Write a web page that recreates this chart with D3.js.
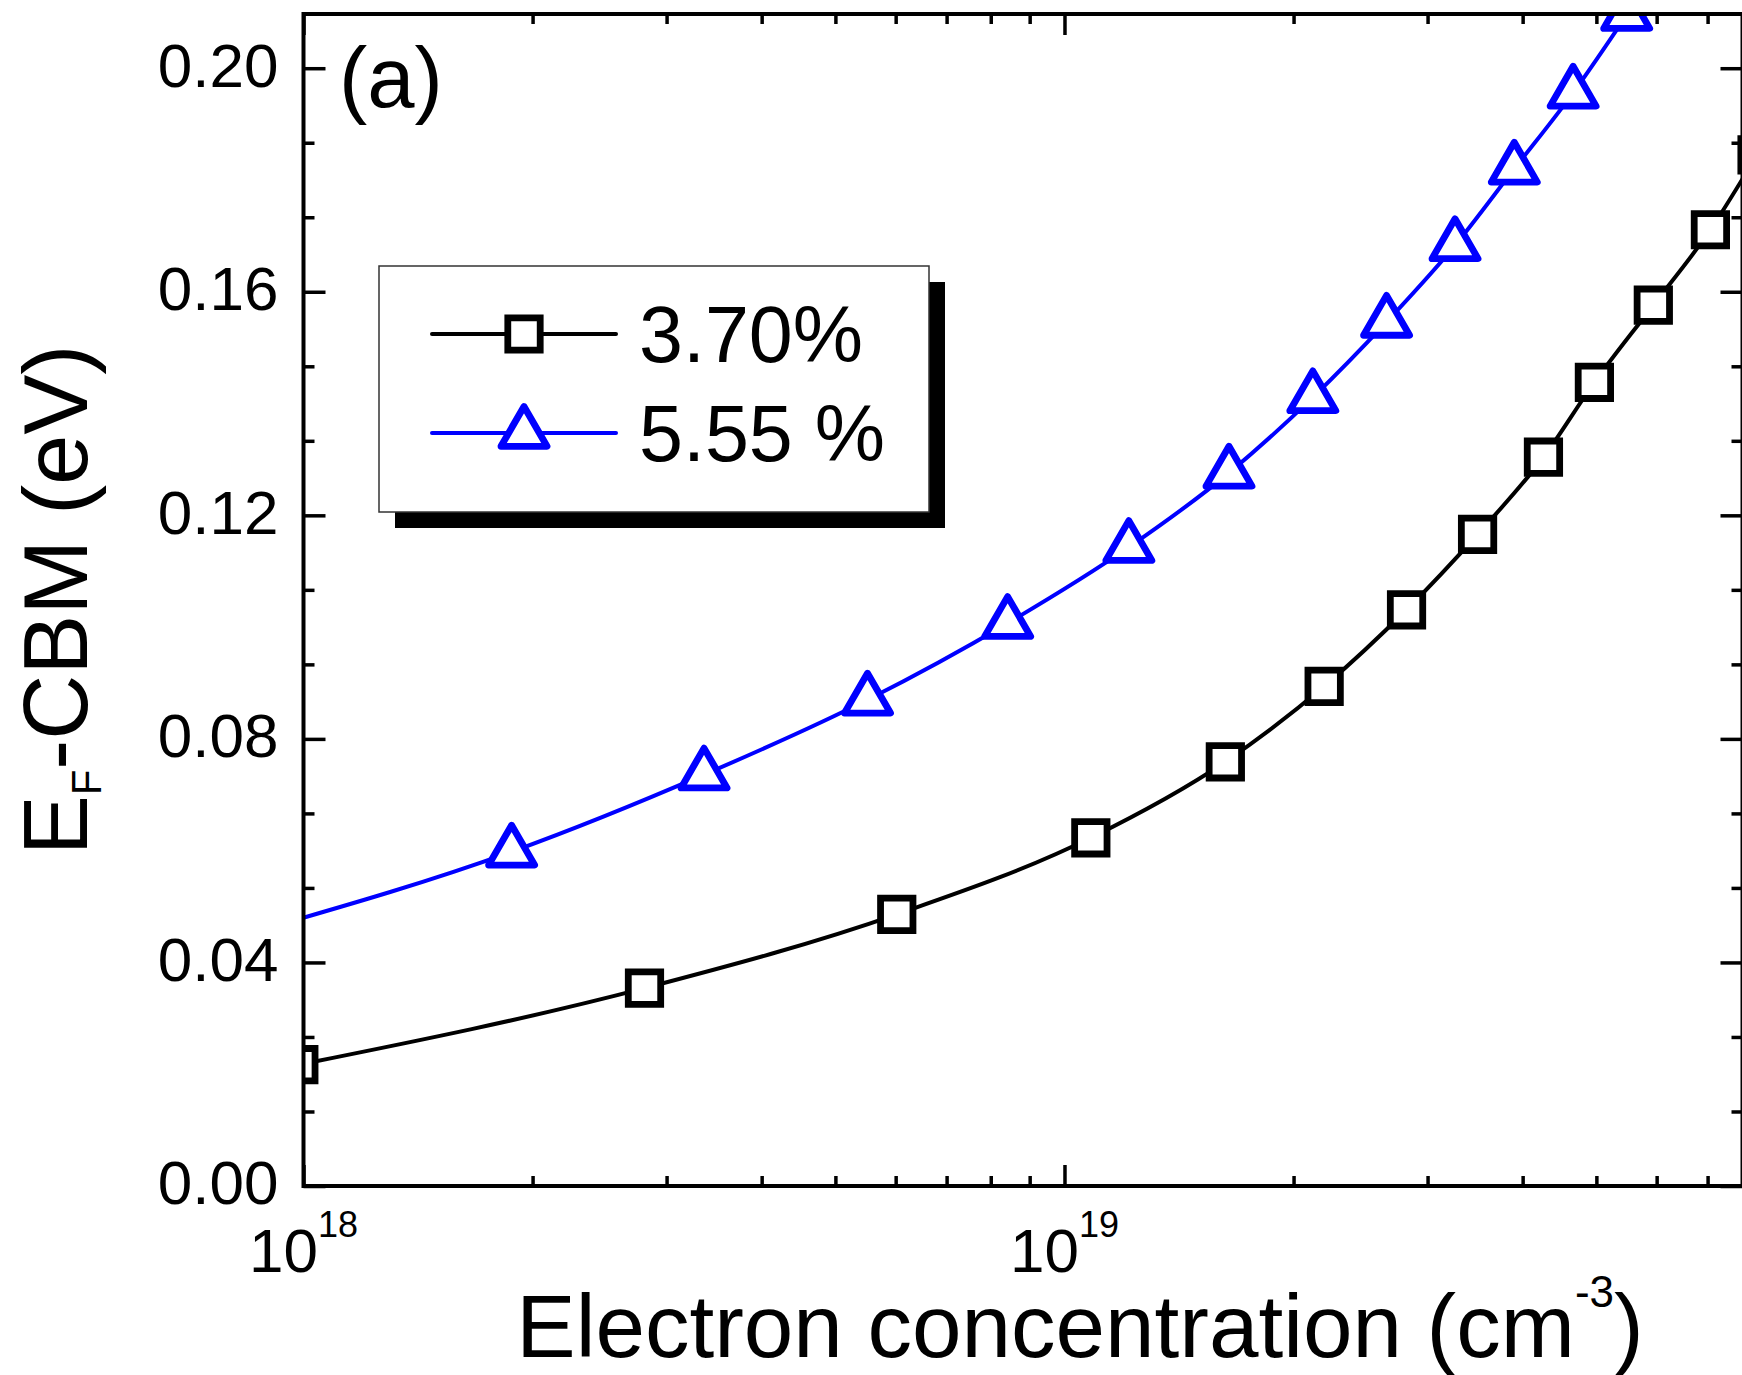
<!DOCTYPE html>
<html>
<head>
<meta charset="utf-8">
<script src="https://cdn.jsdelivr.net/npm/d3@7"></script>
<style>
  body { margin: 0; background: #fff; }
  text { font-family: "Liberation Sans", Arial, sans-serif; fill: #000; }
</style>
</head>
<body>
<div id="chart"></div>
<script>
// data: electron concentration (cm^-3) vs EF - CBM (eV)
const conc370 = [9.86e17, 2.806e18, 6.02e18, 1.083e19, 1.627e19, 2.194e19, 2.815e19, 3.49e19, 4.26e19, 4.97e19, 5.94e19, 7.06e19, 8.13e19]
const ef370 = [0.0217, 0.0354, 0.0486, 0.0623, 0.0759, 0.0894, 0.1031, 0.1166, 0.1304, 0.1438, 0.1576, 0.1711, 0.1845]

const conc555 = [9.0e17, 1.877e18, 3.36e18, 5.51e18, 8.42e18, 1.215e19, 1.645e19, 2.12e19, 2.65e19, 3.26e19, 3.90e19, 4.66e19, 5.48e19]
const ef555 = [0.0462, 0.0598, 0.0736, 0.0870, 0.1007, 0.1143, 0.1276, 0.1411, 0.1546, 0.1683, 0.1820, 0.1956, 0.2095]

const seriesNames = ["3.70%", "5.55 %"]
const seriesColors = ["#000000", "#0000ff"]
const seriesShapes = ["square", "triangle"]

const yTicks = [0, 0.04, 0.08, 0.12, 0.16, 0.20]
const xTicks = [1e18, 1e19]
const xTickExp = ["18", "19"]

const fullWidth = 1742
const fullHeight = 1375

// plot box in pixels
const plotLeft = 303.5
const plotRight = 1742.5
const plotTop = 14
const plotBottom = 1186

const x = d3.scaleLog()
    .domain([1e18, 7.78e19])
    .range([plotLeft, plotRight])

const y = d3.scaleLinear()
    .domain([0, 0.2097])
    .range([plotBottom, plotTop])

const svg = d3.select("#chart")
    .append("svg")
    .attr("width", fullWidth)
    .attr("height", fullHeight)

svg.append("rect")
    .attr("width", fullWidth)
    .attr("height", fullHeight)
    .attr("fill", "#fff")

svg.append("clipPath")
    .attr("id", "plot-clip")
    .append("rect")
    .attr("x", plotLeft)
    .attr("y", plotTop)
    .attr("width", plotRight - plotLeft)
    .attr("height", plotBottom - plotTop)

const series = [
    { name: seriesNames[0], color: seriesColors[0], shape: seriesShapes[0],
      points: conc370.map((c, i) => [c, ef370[i]]) },
    { name: seriesNames[1], color: seriesColors[1], shape: seriesShapes[1],
      points: conc555.map((c, i) => [c, ef555[i]]) }
]

// marker paths, centred on the point (triangle on its centroid)
function markerPath(shape) {
    if (shape == "square") {
        const h = 16.2
        return `M${-h},${-h}H${h}V${h}H${-h}Z`
    }
    const s = 46
    const hgt = s * Math.sqrt(3) / 2
    return `M0,${-hgt * 2 / 3}L${s / 2},${hgt / 3}L${-s / 2},${hgt / 3}Z`
}

const line = d3.line()
    .x(d => x(d[0]))
    .y(d => y(d[1]))
    .curve(d3.curveMonotoneX)

const plotArea = svg.append("g")
    .attr("clip-path", "url(#plot-clip)")

series.forEach(s => {
    plotArea.append("path")
        .datum(s.points)
        .attr("d", line)
        .attr("fill", "none")
        .attr("stroke", s.color)
        .attr("stroke-width", 4)

    plotArea.selectAll(null)
        .data(s.points)
        .join("path")
        .attr("transform", d => `translate(${x(d[0])},${y(d[1])})`)
        .attr("d", markerPath(s.shape))
        .attr("fill", "#fff")
        .attr("stroke", s.color)
        .attr("stroke-width", 6.8)
        .attr("stroke-linejoin", s.shape == "triangle" ? "round" : "miter")
})

// minor tick positions
const yMinor = d3.range(0, 0.2097, 0.04 / 3).filter(v => Math.abs(v / 0.04 - Math.round(v / 0.04)) > 0.01)
const xMinor = []
for (let e = 18; e <= 19; e++) {
    for (let m = 2; m <= 9; m++) {
        const v = m * Math.pow(10, e)
        if (v < 7.78e19) xMinor.push(v)
    }
}

// ticks only, no domain line (the frame is drawn separately)
function styleAxis(g) {
    g.select(".domain").remove()
    g.selectAll(".tick line").attr("stroke", "#000").attr("stroke-width", 3.5)
}
function noLabels(g) {
    g.selectAll(".tick text").remove()
}

// left axis
svg.append("g")
    .attr("transform", `translate(${plotLeft},0)`)
    .call(d3.axisLeft(y).tickValues(yTicks).tickSize(-22).tickPadding(25).tickFormat(d3.format(".2f")))
    .call(styleAxis)
    .call(g => g.selectAll(".tick text")
        .attr("font-size", 62)
        .attr("dy", "0.29em")
        .attr("font-family", "Liberation Sans, Arial, sans-serif"))
svg.append("g")
    .attr("transform", `translate(${plotLeft},0)`)
    .call(d3.axisLeft(y).tickValues(yMinor).tickSize(-11))
    .call(styleAxis).call(noLabels)

// right axis
svg.append("g")
    .attr("transform", `translate(${plotRight},0)`)
    .call(d3.axisRight(y).tickValues(yTicks).tickSize(-22))
    .call(styleAxis).call(noLabels)
svg.append("g")
    .attr("transform", `translate(${plotRight},0)`)
    .call(d3.axisRight(y).tickValues(yMinor).tickSize(-11))
    .call(styleAxis).call(noLabels)

// bottom axis
svg.append("g")
    .attr("transform", `translate(0,${plotBottom})`)
    .call(d3.axisBottom(x).tickValues(xTicks).tickSize(-21))
    .call(styleAxis).call(noLabels)
svg.append("g")
    .attr("transform", `translate(0,${plotBottom})`)
    .call(d3.axisBottom(x).tickValues(xMinor).tickSize(-10))
    .call(styleAxis).call(noLabels)

// top axis
svg.append("g")
    .attr("transform", `translate(0,${plotTop})`)
    .call(d3.axisTop(x).tickValues(xTicks).tickSize(-21))
    .call(styleAxis).call(noLabels)
svg.append("g")
    .attr("transform", `translate(0,${plotTop})`)
    .call(d3.axisTop(x).tickValues(xMinor).tickSize(-10))
    .call(styleAxis).call(noLabels)

// x tick labels as 10^n
xTicks.forEach((t, i) => {
    const lbl = svg.append("text")
        .attr("x", x(t))
        .attr("y", 1272)
        .attr("text-anchor", "middle")
        .attr("font-size", 62)
    lbl.append("tspan").text("10")
    lbl.append("tspan").attr("dy", -35).attr("font-size", 36).text(xTickExp[i])
})

// frame
svg.append("rect")
    .attr("x", plotLeft)
    .attr("y", plotTop)
    .attr("width", plotRight - plotLeft)
    .attr("height", plotBottom - plotTop)
    .attr("fill", "none")
    .attr("stroke", "#000")
    .attr("stroke-width", 4)

// panel tag
svg.append("text")
    .attr("x", 339)
    .attr("y", 107)
    .attr("font-size", 85)
    .text("(a)")

// axis titles
const xTitle = svg.append("text")
    .attr("x", 1080)
    .attr("y", 1357)
    .attr("text-anchor", "middle")
    .attr("font-size", 89)
xTitle.append("tspan").text("Electron concentration (cm")
xTitle.append("tspan").attr("dy", -50).attr("font-size", 44).text("-3")
xTitle.append("tspan").attr("dy", 50).text(")")

const yTitle = svg.append("text")
    .attr("transform", "translate(87,600) rotate(-90)")
    .attr("text-anchor", "middle")
    .attr("font-size", 90)
yTitle.append("tspan").text("E")
yTitle.append("tspan").attr("dy", 14).attr("font-size", 42).text("F")
yTitle.append("tspan").attr("dy", -14).text("-CBM (eV)")

// legend with drop shadow
const legend = svg.append("g")
legend.append("rect")
    .attr("x", 395).attr("y", 282)
    .attr("width", 550).attr("height", 246)
    .attr("fill", "#000")
legend.append("rect")
    .attr("x", 379).attr("y", 266)
    .attr("width", 550).attr("height", 246)
    .attr("fill", "#fff")
    .attr("stroke", "#333")
    .attr("stroke-width", 1.5)

const legendRowY = [334, 433]
series.forEach((s, i) => {
    const row = legend.append("g").attr("transform", `translate(0,${legendRowY[i]})`)
    row.append("line")
        .attr("x1", 432).attr("x2", 616)
        .attr("stroke", s.color)
        .attr("stroke-width", 4)
        .attr("stroke-linecap", "round")
    row.append("path")
        .attr("transform", "translate(524,0)")
        .attr("d", markerPath(s.shape))
        .attr("fill", "#fff")
        .attr("stroke", s.color)
        .attr("stroke-width", 6.8)
        .attr("stroke-linejoin", s.shape == "triangle" ? "round" : "miter")
    row.append("text")
        .attr("x", 639)
        .attr("y", 28)
        .attr("font-size", 79)
        .text(s.name)
})
</script>
</body>
</html>
